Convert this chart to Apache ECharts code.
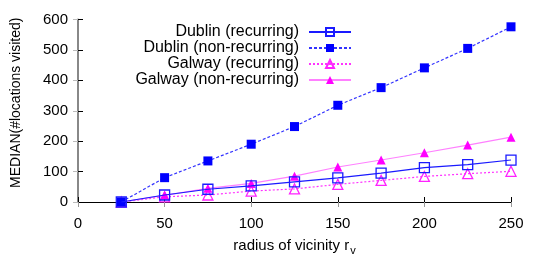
<!DOCTYPE html>
<html>
<head>
<meta charset="utf-8">
<script src="https://cdn.jsdelivr.net/npm/echarts@6/dist/echarts.min.js"></script>
<style>html,body{margin:0;padding:0;background:#fff}#c{width:540px;height:270px}</style>
</head>
<body>
<div id="c"></div>
<script>
const radius = [25, 50, 75, 100, 125, 150, 175, 200, 225, 250];
const dublinRecurring = [0, 23, 42, 53, 66, 79, 95, 113, 123, 138];
const dublinNonRecurring = [0, 80, 135, 190, 248, 318, 376, 441, 505, 576];
const galwayRecurring = [0, 17, 23, 36, 43, 58, 71, 84, 93, 101];
const galwayNonRecurring = [0, 22, 45, 61, 85, 115, 138, 162, 187, 213];
const seriesNames = ['Dublin (recurring)', 'Dublin (non-recurring)', 'Galway (recurring)', 'Galway (non-recurring)'];
const xTicks = {min: 0, max: 250, interval: 50};
const yTicks = {min: 0, max: 600, interval: 100};

function pairs(ys) { return radius.map((x, i) => [x, ys[i]]); }

const font = 'Liberation Sans, Arial, sans-serif';
const chart = echarts.init(document.getElementById('c'), null, {renderer: 'canvas'});
chart.setOption({
  animation: false,
  backgroundColor: '#fff',
  grid: {left: 78, right: 29, top: 19.5, bottom: 68},
  legend: {
    orient: 'vertical', right: 188, top: 24, align: 'right', padding: 0,
    itemWidth: 42, itemHeight: 10, itemGap: 0,
    textStyle: {fontFamily: font, fontSize: 16, color: '#000', padding: [0, 5, 0, 0], lineHeight: 16},
    data: seriesNames
  },
  xAxis: [{
    type: 'value', min: xTicks.min, max: xTicks.max, interval: xTicks.interval,
    name: '{a|radius of vicinity r}{s|v}', nameLocation: 'middle', nameGap: 33,
    nameTextStyle: {rich: {a: {fontFamily: font, fontSize: 15, color: '#000'}, s: {fontFamily: font, fontSize: 11, color: '#000', padding: [10, 0, 0, 1]}}},
    axisLine: {lineStyle: {color: '#000', width: 1}},
    axisTick: {inside: true, length: 5, lineStyle: {color: '#000'}},
    axisLabel: {fontFamily: font, fontSize: 15, color: '#000', margin: 14},
    splitLine: {show: false}
  }, {
    type: 'value', position: 'top', min: xTicks.min, max: xTicks.max, interval: xTicks.interval,
    axisLine: {show: true, lineStyle: {color: '#000', width: 1}},
    axisTick: {inside: true, length: 5, lineStyle: {color: '#999'}},
    axisLabel: {show: false}, splitLine: {show: false}
  }],
  yAxis: [{
    type: 'value', min: yTicks.min, max: yTicks.max, interval: yTicks.interval,
    name: 'MEDIAN(#locations visited)', nameLocation: 'middle', nameGap: 55,
    nameTextStyle: {fontFamily: font, fontSize: 14, color: '#000', padding: [0, 0, 0, 16]},
    axisLine: {show: true, lineStyle: {color: '#000', width: 1}},
    axisTick: {show: true, inside: true, length: 5, lineStyle: {color: '#000'}},
    axisLabel: {fontFamily: font, fontSize: 15, color: '#000', margin: 10},
    splitLine: {show: false}
  }, {
    type: 'value', position: 'right', min: yTicks.min, max: yTicks.max, interval: yTicks.interval,
    axisLine: {show: true, lineStyle: {color: '#888', width: 2}},
    axisTick: {show: true, inside: true, length: 5, lineStyle: {color: '#bbb'}},
    axisLabel: {show: false}, splitLine: {show: false}
  }],
  series: [{
    name: seriesNames[0], type: 'line', data: pairs(dublinRecurring),
    symbol: 'rect', symbolSize: 10, showAllSymbol: true,
    itemStyle: {color: 'rgba(255,255,255,0)', borderColor: '#1a1aff', borderWidth: 1.3},
    lineStyle: {color: '#1a1aff', width: 1.2, type: 'solid'}, z: 4
  }, {
    name: seriesNames[1], type: 'line', data: pairs(dublinNonRecurring),
    symbol: 'rect', symbolSize: 9,
    itemStyle: {color: '#0000ff', borderWidth: 0},
    lineStyle: {color: '#3333ff', width: 1.2, type: [3, 2]}, z: 3
  }, {
    name: seriesNames[2], type: 'line', data: pairs(galwayRecurring),
    symbol: 'triangle', symbolSize: 10,
    itemStyle: {color: 'rgba(255,255,255,0)', borderColor: '#ff22ff', borderWidth: 1.3},
    lineStyle: {color: '#ff33ff', width: 1.2, type: [2, 2]}, z: 2
  }, {
    name: seriesNames[3], type: 'line', data: pairs(galwayNonRecurring),
    symbol: 'triangle', symbolSize: 9,
    itemStyle: {color: '#ff00ff', borderWidth: 0},
    lineStyle: {color: '#ff80ff', width: 1.2, type: 'solid'}, z: 2
  }]
});
</script>
</body>
</html>
